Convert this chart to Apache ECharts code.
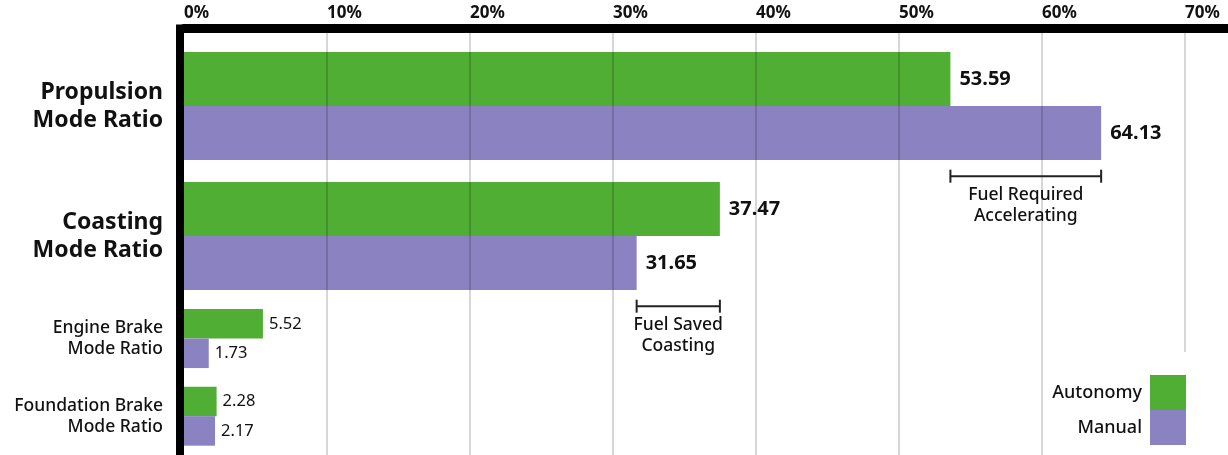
<!DOCTYPE html>
<html>
<head>
<meta charset="utf-8">
<script src="https://cdn.jsdelivr.net/npm/echarts@6/dist/echarts.min.js"></script>
<style>
  html, body { margin: 0; padding: 0; background: #fff; }
  #chart { width: 1228px; height: 455px; }
</style>
</head>
<body>
<div id="chart"></div>
<script>
// values
const categories = [
  'Propulsion\nMode Ratio',
  'Coasting\nMode Ratio',
  'Engine Brake\nMode Ratio',
  'Foundation Brake\nMode Ratio',
]
const autonomy = [53.59, 37.47, 5.52, 2.28]
const manual = [64.13, 31.65, 1.73, 2.17]
const tickStep = 10
const tickMax = 70
const noteRows = [0, 1]
const noteLabels = ['Fuel Required\nAccelerating', 'Fuel Saved\nCoasting']

const FONT = 'Noto Sans'
const GREEN = '#51ae34'
const PURPLE = '#8b82c2'
const INK = '#111'
// axis runs a little past 70% to the right edge of the page
const xMax = 73

const chart = echarts.init(document.getElementById('chart'))

const hiddenX = (idx, max = xMax) => ({
  type: 'value',
  gridIndex: idx,
  min: 0,
  max,
  show: false,
  axisLine: { show: false, onZero: false },
  splitLine: { show: false },
})

const barSeries = (name, values, idx, big, color) => ({
  name,
  type: 'bar',
  xAxisIndex: idx,
  yAxisIndex: idx,
  data: values,
  barWidth: big ? 54 : 29.5,
  barGap: '0%',
  itemStyle: { color },
  label: {
    show: true,
    position: 'right',
    distance: big ? 9 : 6,
    fontFamily: FONT,
    fontSize: big ? 20 : 16.5,
    fontWeight: big ? 700 : 400,
    color: INK,
    formatter: (p) => p.value.toFixed(2),
  },
})

const catAxis = (idx, cats, big) => ({
  type: 'category',
  gridIndex: idx,
  data: cats,
  inverse: true,
  axisLine: { show: false, onZero: false },
  axisTick: { show: false },
  axisLabel: {
    margin: 21,
    align: 'right',
    padding: [3, 0, 0, 0],
    fontFamily: FONT,
    fontSize: big ? 23 : 17.5,
    fontWeight: big ? 700 : 500,
    lineHeight: big ? 28 : 21,
    color: INK,
  },
})

const option = {
  animation: false,
  textStyle: { fontFamily: FONT },
  legend: {
    data: ['Autonomy', 'Manual'],
    orient: 'vertical',
    align: 'right',
    icon: 'rect',
    right: 39,
    top: 352,
    padding: [23, 3, 10, 4],
    backgroundColor: '#fff',
    itemWidth: 36,
    itemHeight: 35,
    itemGap: 0,
    selectedMode: false,
    textStyle: { fontFamily: FONT, fontSize: 18, fontWeight: 500, color: INK, padding: [0, 3, 0, 0] },
  },
  grid: [
    { left: 184, right: 0, top: 28.5, bottom: 0 },
    { left: 184, right: 0, top: 41, height: 260 },
    { left: 184, right: 0, top: 299.75, height: 163 },
    // holds only the heavy left rule
    { left: 180, width: 10, top: 28.5, bottom: 0 },
  ],
  xAxis: [
    {
      type: 'value',
      gridIndex: 0,
      position: 'top',
      min: 0,
      max: xMax,
      interval: tickStep,
      z: 3,
      axisLine: { show: true, onZero: false, lineStyle: { color: '#000', width: 9 } },
      axisTick: { show: false },
      axisLabel: {
        showMaxLabel: false,
        align: 'left',
        margin: 7,
        fontFamily: FONT,
        fontSize: 17,
        fontWeight: 700,
        color: INK,
        formatter: (v) => (v <= tickMax && v % tickStep === 0 ? v + '%' : ''),
      },
      splitLine: {
        show: true,
        showMinLine: false,
        showMaxLine: false,
        lineStyle: { color: 'rgba(0,0,0,0.21)', width: 1.5 },
      },
    },
    hiddenX(1),
    hiddenX(2),
    hiddenX(3, 1),
  ],
  yAxis: [
    {
      type: 'value',
      gridIndex: 0,
      min: 0,
      max: 1,
      show: false,
      axisLine: { show: false, onZero: false },
      splitLine: { show: false },
    },
    catAxis(1, categories.slice(0, 2), true),
    catAxis(2, categories.slice(2), false),
    {
      type: 'value',
      gridIndex: 3,
      min: 0,
      max: 1,
      z: 4,
      axisLine: { show: true, onZero: false, lineStyle: { color: '#000', width: 8, cap: 'square' } },
      axisTick: { show: false },
      axisLabel: { show: false },
      splitLine: { show: false },
    },
  ],
  series: [
    barSeries('Autonomy', autonomy.slice(0, 2), 1, true, GREEN),
    barSeries('Manual', manual.slice(0, 2), 1, true, PURPLE),
    barSeries('Autonomy', autonomy.slice(2), 2, false, GREEN),
    barSeries('Manual', manual.slice(2), 2, false, PURPLE),
    {
      type: 'custom',
      xAxisIndex: 1,
      yAxisIndex: 1,
      silent: true,
      z: 5,
      encode: { x: [0, 1], y: 2 },
      data: noteRows.map((r) => [Math.min(autonomy[r], manual[r]), Math.max(autonomy[r], manual[r]), r]),
      renderItem(params, api) {
        const row = api.value(2)
        const center = api.coord([0, row])[1]
        const band = api.size([0, 1])[1]
        const y = center + band * 0.54
        const x1 = api.coord([api.value(0), row])[0]
        const x2 = api.coord([api.value(1), row])[0]
        const stroke = { stroke: '#222', lineWidth: 2 }
        return {
          type: 'group',
          children: [
            { type: 'line', shape: { x1, y1: y, x2, y2: y }, style: stroke },
            { type: 'line', shape: { x1, y1: y - 6.5, x2: x1, y2: y + 6.5 }, style: stroke },
            { type: 'line', shape: { x1: x2, y1: y - 6.5, x2, y2: y + 6.5 }, style: stroke },
            {
              type: 'text',
              x: (x1 + x2) / 2,
              y: y + 8,
              style: {
                text: noteLabels[params.dataIndex],
                align: 'center',
                verticalAlign: 'top',
                fontFamily: FONT,
                fontSize: 17.5,
                fontWeight: 500,
                lineHeight: 21,
                fill: INK,
              },
            },
          ],
        }
      },
    },
  ],
}

chart.setOption(option)
</script>
</body>
</html>
